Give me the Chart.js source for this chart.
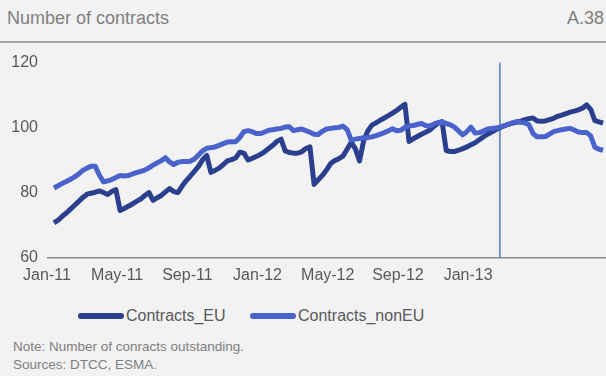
<!DOCTYPE html>
<html>
<head>
<meta charset="utf-8">
<script src="https://cdn.jsdelivr.net/npm/chart.js@4/dist/chart.umd.min.js"></script>
<style>
    html, body { margin: 0; padding: 0; }
    body {
        width: 606px; height: 376px; overflow: hidden;
        background: #f2f2f2; position: relative;
        font-family: "Liberation Sans", Arial, sans-serif;
    }
    .title { position: absolute; left: 7px; top: 8px; font-size: 18px; color: #7f7f7f; }
    .code { position: absolute; right: 2px; top: 8px; font-size: 18px; color: #7f7f7f; }
    .rule { position: absolute; left: 0; top: 41px; width: 606px; height: 2px; background: #a6a6a6; }
    .chart { position: absolute; left: 0; top: 43px; width: 606px; height: 250px; }
    .legend { position: absolute; top: 306px; left: 0; width: 606px; font-size: 16px; color: #595959; }
    .legend span.item { position: absolute; white-space: nowrap; line-height: 20px; }
    .legend i { display: inline-block; width: 46px; height: 6px; border-radius: 3px; vertical-align: middle; margin-right: 2px; position: relative; top: -1px; }
    .note { position: absolute; left: 13px; font-size: 13.5px; color: #7f7f7f; }
</style>
</head>
<body>
<div class="title">Number of contracts</div>
<div class="code">A.38</div>
<div class="rule"></div>
<div class="chart"><canvas id="chart"></canvas></div>
<div class="legend" id="legend"></div>
<div class="note" style="top:339px">Note: Number of conracts outstanding.</div>
<div class="note" style="top:357px">Sources: DTCC, ESMA.</div>

<script>
(() => {
    'use strict';

    // weekly observations, first week of Jan-11 onwards
    const contractsEU = [
        70.8, 71.6, 72.8, 73.8, 75.0, 76.2, 77.4, 78.6, 79.6, 79.9,
        80.2, 80.6, 80.1, 79.5, 80.4, 81.0, 74.6, 75.2, 75.9, 76.6,
        77.4, 78.1, 79.2, 80.1, 77.7, 78.5, 79.2, 80.3, 81.3, 80.4,
        80.1, 82.0, 83.7, 85.1, 86.6, 88.1, 90.2, 91.5, 86.3, 86.9,
        87.6, 88.7, 89.8, 90.2, 90.7, 92.5, 92.2, 90.1, 90.6, 91.2,
        91.8, 92.6, 93.6, 94.6, 95.8, 96.5, 92.9, 92.4, 92.2, 92.2,
        92.6, 93.6, 94.1, 82.6, 84.0, 85.3, 87.0, 89.0, 89.9, 90.5,
        91.3, 93.4, 95.5, 93.5, 89.8, 96.0, 99.0, 100.8, 101.5, 102.3,
        103.0, 103.7, 104.5, 105.3, 106.3, 107.2, 95.8, 96.6, 97.3, 98.0,
        98.6, 99.3, 100.4, 101.4, 101.9, 93.0, 92.7, 92.7, 93.1, 93.6,
        94.1, 94.8, 95.4, 96.3, 97.2, 98.0, 98.7, 99.4, 100.0, 100.6,
        101.0, 101.4, 101.7, 102.0, 102.5, 102.8, 103.0, 102.1, 102.0, 102.1,
        102.5, 102.9, 103.5, 103.9, 104.3, 104.8, 105.1, 105.5, 106.0, 107.0,
        105.6, 102.2, 101.8, 101.4
    ];

    const contractsNonEU = [
        81.5, 82.2, 82.9, 83.5, 84.2, 84.9, 85.8, 86.9, 87.6, 88.2,
        88.2, 85.4, 83.4, 83.7, 84.1, 84.7, 85.3, 85.2, 85.3, 85.8,
        86.2, 86.6, 87.0, 87.7, 88.5, 89.2, 89.9, 90.8, 89.5, 88.7,
        89.4, 89.6, 89.6, 89.7, 90.4, 91.6, 92.9, 93.7, 93.9, 94.1,
        94.6, 95.1, 95.6, 95.7, 95.7, 97.0, 98.8, 99.1, 98.8, 98.2,
        98.2, 98.7, 99.2, 99.4, 99.6, 99.8, 100.2, 100.3, 99.1, 99.4,
        99.6, 99.1, 98.6, 98.0, 97.9, 98.9, 99.6, 99.8, 100.0, 100.1,
        100.5, 99.4, 96.2, 96.5, 96.7, 96.9, 97.0, 97.2, 97.6, 98.0,
        98.5, 99.1, 99.7, 99.1, 99.2, 100.1, 100.6, 100.7, 101.0, 101.3,
        100.7, 100.5, 101.1, 101.6, 101.7, 101.3, 100.9, 100.2, 99.0, 97.8,
        98.8, 100.2, 98.4, 98.5, 99.0, 99.6, 99.8, 99.9, 100.2, 100.6,
        101.0, 101.5, 101.9, 101.7, 101.5, 101.0, 98.3, 97.2, 97.2, 97.3,
        98.0, 98.8, 99.1, 99.4, 99.6, 99.8, 99.3, 98.7, 98.5, 98.5,
        97.5, 94.0, 93.4, 93.1
    ];

    const tickLabels = ['Jan-11', 'May-11', 'Sep-11', 'Jan-12', 'May-12', 'Sep-12', 'Jan-13'];
    const weeksPerTick = 17;
    const baseWeek = 108;   // both series indexed to 100 here
    const weeks = contractsEU.map((v, i) => i);

    const COLORS = { eu: '#2b3f8f', nonEu: '#4a62cc', marker: '#4f81bd', text: '#595959', axis: '#8c8c8c' };

    const series = [
        { label: 'Contracts_EU', data: contractsEU, color: COLORS.eu, order: 1 },
        { label: 'Contracts_nonEU', data: contractsNonEU, color: COLORS.nonEu, order: 0 }
    ];

    const baseLine = {
        id: 'baseLine',
        beforeDatasetsDraw(chart) {
            const { ctx, chartArea, scales } = chart;
            const x = scales.x.getPixelForValue(baseWeek);
            ctx.save();
            ctx.strokeStyle = COLORS.marker;
            ctx.lineWidth = 1.5;
            ctx.beginPath();
            ctx.moveTo(x, chartArea.top);
            ctx.lineTo(x, chartArea.bottom);
            ctx.stroke();
            ctx.restore();
        }
    };

    new Chart(document.getElementById('chart').getContext('2d'), {
        type: 'line',
        data: {
            labels: weeks,
            datasets: series.map(s => ({
                label: s.label,
                data: s.data,
                borderColor: s.color,
                backgroundColor: s.color,
                borderWidth: 5,
                borderJoinStyle: 'round',
                pointRadius: 0,
                tension: 0,
                order: s.order
            }))
        },
        options: {
            responsive: true,
            maintainAspectRatio: false,
            animation: false,
            events: [],
            layout: { padding: { top: 11.5, right: 0, left: 0, bottom: 0 } },
            plugins: { legend: { display: false }, tooltip: { enabled: false } },
            scales: {
                x: {
                    type: 'linear',
                    min: -1.45,
                    max: 133.7,
                    afterBuildTicks: (scale) => {
                        scale.ticks = tickLabels.map((l, i) => ({ value: i * weeksPerTick }));
                    },
                    afterFit: (scale) => { scale.height = 35; },
                    grid: { display: false, drawTicks: false },
                    border: { display: true, color: COLORS.axis, width: 1.5 },
                    ticks: {
                        padding: 8,
                        labelOffset: -7,
                        maxRotation: 0,
                        autoSkip: false,
                        color: COLORS.text,
                        font: { family: '"Liberation Sans", Arial', size: 16 },
                        callback: (value) => tickLabels[Math.round(value / weeksPerTick)]
                    }
                },
                y: {
                    min: 60,
                    max: 120,
                    afterFit: (scale) => { scale.width = 48; },
                    grid: { display: false, drawTicks: false },
                    border: { display: false },
                    ticks: {
                        stepSize: 20,
                        padding: 10,
                        color: COLORS.text,
                        font: { family: '"Liberation Sans", Arial', size: 16 }
                    }
                }
            }
        },
        plugins: [baseLine]
    });

    // LEGEND
    const legend = document.getElementById('legend');
    const legendLeft = [78, 250];
    series.forEach((s, i) => {
        const item = document.createElement('span');
        item.className = 'item';
        item.style.left = legendLeft[i] + 'px';
        item.innerHTML = '<i style="background:' + s.color + '"></i>' + s.label;
        legend.appendChild(item);
    });
})();
</script>
</body>
</html>
